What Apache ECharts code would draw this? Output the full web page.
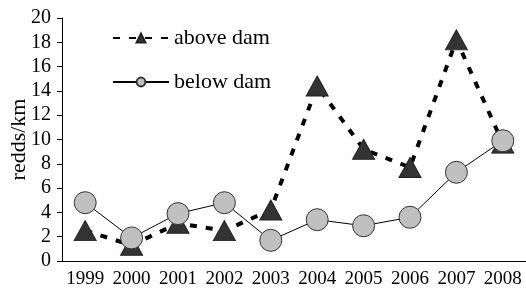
<!DOCTYPE html>
<html>
<head>
<meta charset="utf-8">
<script src="https://cdn.jsdelivr.net/npm/echarts@6/dist/echarts.min.js"></script>
<style>
  html, body { margin: 0; padding: 0; background: #fff; }
  #main { width: 526px; height: 290px; }
</style>
</head>
<body>
<div id="main"></div>
<script>
var years = ['1999', '2000', '2001', '2002', '2003', '2004', '2005', '2006', '2007', '2008'];
var aboveDam = [2.5, 1.3, 3.1, 2.5, 4.2, 14.4, 9.2, 7.7, 18.2, 9.7];
var belowDam = [4.8, 1.9, 3.9, 4.8, 1.7, 3.4, 2.9, 3.6, 7.3, 9.9];

var serif = 'Times New Roman, serif';
var myChart = echarts.init(document.getElementById('main'));

var option = {
    animation: false,
    textStyle: { fontFamily: serif, color: '#000' },
    grid: { left: 62, right: 0, top: 18, bottom: 29, outerBoundsMode: 'none' },
    legend: {
        orient: 'vertical',
        left: 107,
        top: 22,
        itemGap: 22,
        itemWidth: 56,
        itemHeight: 11,
        textStyle: { fontFamily: serif, fontSize: 22, color: '#000' },
        data: ['above dam', 'below dam']
    },
    xAxis: {
        type: 'category',
        data: years,
        axisLine: { lineStyle: { color: '#000', width: 1 } },
        axisTick: { length: 5, lineStyle: { color: '#000' } },
        axisLabel: { interval: 0, fontFamily: serif, fontSize: 19, color: '#000', margin: 9 }
    },
    yAxis: {
        type: 'value',
        min: 0,
        max: 20,
        interval: 2,
        name: 'redds/km',
        nameLocation: 'middle',
        nameGap: 32,
        nameMoveOverlap: false,
        nameTextStyle: { fontFamily: serif, fontSize: 22, color: '#000' },
        axisLine: { show: true, lineStyle: { color: '#000', width: 1 } },
        axisTick: { show: true, length: 5, lineStyle: { color: '#000' } },
        axisLabel: { fontFamily: serif, fontSize: 20, color: '#000', margin: 11 },
        splitLine: { show: false }
    },
    series: [
        {
            name: 'above dam',
            type: 'line',
            data: aboveDam,
            symbol: 'triangle',
            symbolSize: [22, 20],
            itemStyle: { color: '#333', borderColor: '#222', borderWidth: 1 },
            lineStyle: { color: '#000', width: 4, type: [7, 9] },
            z: 2
        },
        {
            name: 'below dam',
            type: 'line',
            data: belowDam,
            symbol: 'circle',
            symbolSize: 22,
            itemStyle: { color: '#c0c0c0', borderColor: '#333', borderWidth: 1 },
            lineStyle: { color: '#000', width: 1 },
            z: 3
        }
    ]
};

option && myChart.setOption(option);
</script>
</body>
</html>
